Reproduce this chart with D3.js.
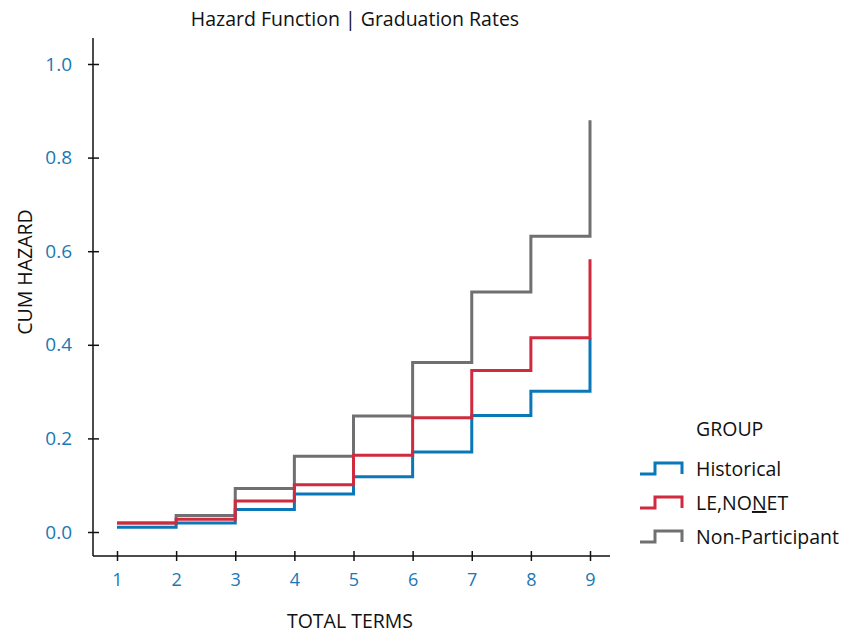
<!DOCTYPE html>
<html><head><meta charset="utf-8">
<script src="https://cdn.jsdelivr.net/npm/d3@7"></script>
<style>body{margin:0;background:#fff}svg{display:block}text{font-family:"Open Sans",sans-serif}</style>
</head><body><svg id="c" width="848" height="633"></svg>
<script>
const terms = [1,2,3,4,5,6,7,8,9];
const historical = [0.010,0.019,0.048,0.081,0.118,0.171,0.249,0.301,0.414];
const leNonet = [0.019,0.027,0.066,0.101,0.164,0.244,0.345,0.415,0.583];
const nonParticipant = [0.019,0.035,0.093,0.162,0.248,0.362,0.513,0.632,0.880];
const yTicks = [0,0.2,0.4,0.6,0.8,1.0];
const groups = ["Historical","LE,NONET","Non-Participant"];
const colors = {"Historical":"#0a78b8","LE,NONET":"#cf2a3e","Non-Participant":"#707073"};

const svg = d3.select("#c");
const x = d3.scaleLinear().domain([1,9]).range([117,590]);
const y = d3.scaleLinear().domain([0,1]).range([532,64]);
const axisColor = "#111";
const tickColor = "#1a78b4";

svg.append("line").attr("x1",93).attr("x2",93).attr("y1",38).attr("y2",556).attr("stroke",axisColor).attr("stroke-width",1.5);
svg.append("line").attr("x1",93).attr("x2",610).attr("y1",556).attr("y2",556).attr("stroke",axisColor).attr("stroke-width",1.5);

const yAx = svg.append("g").attr("transform","translate(93,0)").call(d3.axisLeft(y).tickValues(yTicks).tickFormat(d3.format(".1f")).tickSize(5).tickPadding(16));
yAx.select(".domain").remove();
yAx.selectAll(".tick line").attr("x1",-5).attr("x2",6).attr("stroke",axisColor).attr("stroke-width",1.5);
yAx.selectAll(".tick text").attr("fill",tickColor).style("font-size","19px").style("font-family","'Open Sans',sans-serif");

const xAx = svg.append("g").attr("transform","translate(0,556)").call(d3.axisBottom(x).tickValues(terms).tickFormat(d3.format("d")).tickSize(5).tickPadding(12));
xAx.select(".domain").remove();
xAx.selectAll(".tick line").attr("y1",-5).attr("y2",5).attr("stroke",axisColor).attr("stroke-width",1.5);
xAx.selectAll(".tick text").attr("fill",tickColor).style("font-size","18px").style("font-family","'Open Sans',sans-serif");

const line = d3.line().x(d=>x(d[0])).y(d=>y(d[1])).curve(d3.curveStepAfter);
const series = [
  ["Non-Participant", nonParticipant],
  ["Historical", historical],
  ["LE,NONET", leNonet]
];
series.forEach(([name, vals]) => {
  svg.append("path").datum(terms.map((t,i)=>[t,vals[i]]))
    .attr("d", line).attr("fill","none").attr("stroke",colors[name]).attr("stroke-width",3);
});

svg.append("text").attr("x",355).attr("y",26).attr("text-anchor","middle").style("font-size","19.5px").attr("fill","#111").text("Hazard Function | Graduation Rates");
svg.append("text").attr("x",350).attr("y",628).attr("text-anchor","middle").style("font-size","19.5px").attr("fill","#111").text("TOTAL TERMS");
svg.append("text").attr("transform","translate(32,272) rotate(-90)").attr("text-anchor","middle").style("font-size","19.5px").attr("fill","#111").text("CUM HAZARD");

svg.append("text").attr("x",696).attr("y",436).style("font-size","19.5px").attr("fill","#111").text("GROUP");
const ly = [469,503,537];
groups.forEach((g,i)=>{
  const yy = ly[i];
  svg.append("path").attr("d",`M640,${yy+5}H655V${yy-6}H682V${yy+5}`).attr("fill","none").attr("stroke",colors[g]).attr("stroke-width",3);
  const t = svg.append("text").attr("x",696).attr("y",yy+7).style("font-size","19.5px").attr("fill","#111");
  if (g === "LE,NONET") {
    t.append("tspan").text("LE,NO");
    t.append("tspan").style("text-decoration","underline").text("N");
    t.append("tspan").text("ET");
  } else t.text(g);
});
</script></body></html>
